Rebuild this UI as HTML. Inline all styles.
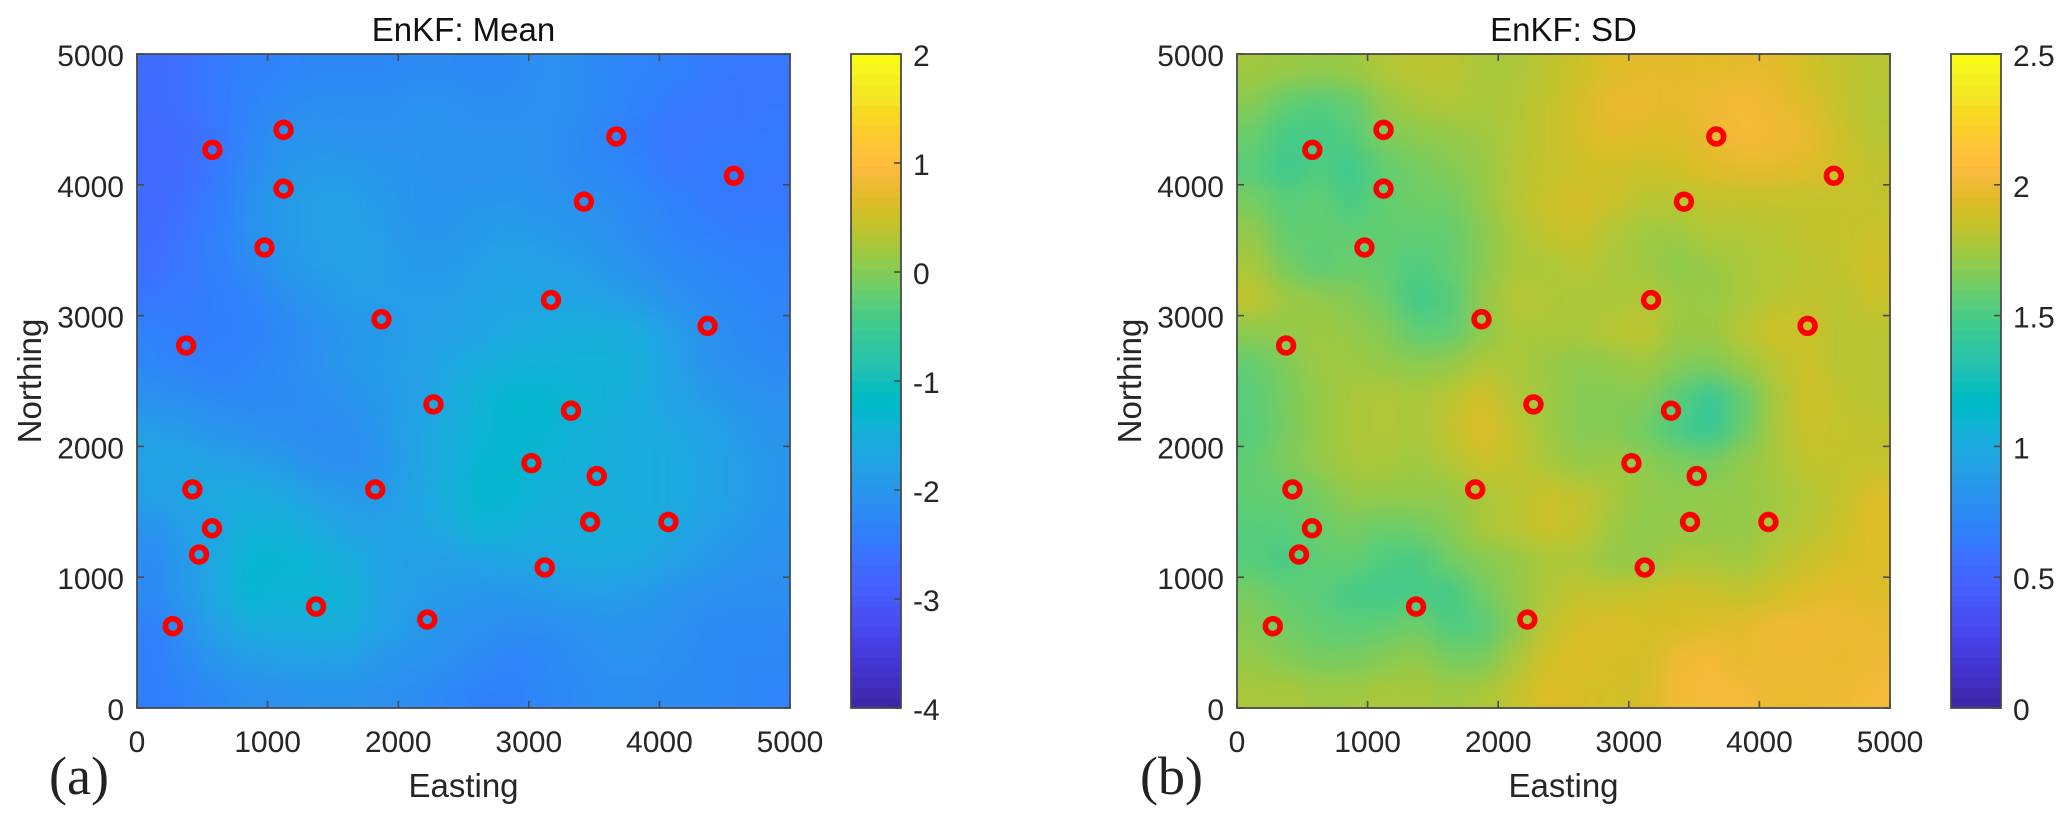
<!DOCTYPE html>
<html lang="en">
<head>
<meta charset="utf-8">
<title>EnKF Mean and SD</title>
<style>
html,body{margin:0;padding:0;background:#fff;width:2067px;height:823px;overflow:hidden}
svg{display:block}
text{font-family:"Liberation Sans",Arial,sans-serif;fill:#262626}
</style>
</head>
<body>
<svg id="figure" xmlns="http://www.w3.org/2000/svg" width="2067" height="823" viewBox="0 0 2067 823">
<defs>
<filter id="smooth" filterUnits="userSpaceOnUse" x="0" y="0" width="2067" height="823" color-interpolation-filters="sRGB">
<feGaussianBlur stdDeviation="12"/>
</filter>
<clipPath id="clip-a"><rect x="137" y="54" width="653" height="654"/></clipPath>
<clipPath id="clip-b"><rect x="1237" y="54" width="653" height="654"/></clipPath>
</defs>
</svg>
<script>
const axisTicks = [0, 1000, 2000, 3000, 4000, 5000];
const meanBarTicks = [-4, -3, -2, -1, 0, 1, 2];
const sdBarTicks = [0, 0.5, 1, 1.5, 2, 2.5];
const meanTitle = "EnKF: Mean";
const sdTitle = "EnKF: SD";

const stationEasting = [1122,577,1122,976,3670,4570,3422,3170,1872,4369,376,2270,3323,3020,3520,424,1824,574,3469,4069,475,3122,1371,2223,274];
const stationNorthing = [4420,4267,3970,3520,4369,4069,3871,3119,2972,2921,2771,2321,2273,1872,1773,1671,1671,1374,1422,1422,1173,1074,775,676,625];

const meanField = [
[-2.7,-2.65,-2.5,-2.38,-2.33,-2.27,-2.27,-2.27,-2.22,-2.22,-2.27,-2.22,-2.1,-2.16,-2.27,-2.33,-2.38,-2.5,-2.55,-2.55],
[-2.7,-2.65,-2.5,-2.33,-2.22,-2.16,-2.16,-2.16,-2.1,-2.1,-2.16,-2.16,-2.1,-2.16,-2.27,-2.38,-2.5,-2.55,-2.6,-2.55],
[-2.75,-2.7,-2.55,-2.27,-2.1,-2.05,-2.1,-2.1,-2.1,-2.1,-2.1,-2.1,-2.1,-2.22,-2.33,-2.45,-2.6,-2.55,-2.55,-2.5],
[-2.75,-2.7,-2.5,-2.22,-2,-1.94,-1.94,-2,-2.05,-2.1,-2.1,-2.05,-2.1,-2.22,-2.27,-2.38,-2.55,-2.5,-2.5,-2.55],
[-2.75,-2.65,-2.45,-2.1,-1.94,-1.83,-1.83,-1.94,-2.05,-2.05,-2,-2,-2.05,-2.1,-2.16,-2.27,-2.38,-2.5,-2.55,-2.55],
[-2.7,-2.6,-2.38,-2.1,-1.94,-1.83,-1.83,-1.88,-2,-2,-1.94,-1.88,-1.94,-2,-2.1,-2.22,-2.33,-2.38,-2.45,-2.45],
[-2.65,-2.55,-2.38,-2.22,-2,-1.88,-1.83,-1.88,-1.94,-1.94,-1.83,-1.77,-1.83,-1.88,-2,-2.1,-2.22,-2.27,-2.33,-2.38],
[-2.55,-2.5,-2.45,-2.33,-2.16,-2,-1.88,-1.88,-1.88,-1.88,-1.77,-1.72,-1.72,-1.72,-1.83,-1.94,-2.1,-2.22,-2.27,-2.33],
[-2.38,-2.45,-2.45,-2.38,-2.27,-2.1,-2,-1.94,-1.88,-1.83,-1.72,-1.6,-1.55,-1.5,-1.5,-1.6,-1.88,-2.1,-2.22,-2.27],
[-2.27,-2.33,-2.38,-2.3,-2.2,-2.1,-1.98,-1.9,-1.83,-1.66,-1.55,-1.45,-1.45,-1.45,-1.45,-1.55,-1.83,-2.05,-2.16,-2.22],
[-2.1,-2.16,-2.22,-2.25,-2.2,-2.15,-2.05,-1.95,-1.83,-1.6,-1.39,-1.28,-1.28,-1.39,-1.45,-1.6,-1.77,-1.94,-2.05,-2.1],
[-1.88,-1.94,-2.05,-2.1,-2.15,-2.2,-2.15,-2,-1.77,-1.55,-1.39,-1.28,-1.33,-1.45,-1.5,-1.55,-1.66,-1.77,-1.94,-2.05],
[-1.72,-1.72,-1.77,-1.85,-1.95,-2.1,-2.15,-2.05,-1.77,-1.55,-1.33,-1.28,-1.39,-1.45,-1.5,-1.55,-1.6,-1.72,-1.88,-2],
[-1.83,-1.72,-1.6,-1.55,-1.66,-1.83,-1.94,-1.94,-1.72,-1.5,-1.28,-1.33,-1.45,-1.5,-1.5,-1.55,-1.6,-1.72,-1.88,-2],
[-2.05,-1.88,-1.66,-1.45,-1.45,-1.6,-1.77,-1.83,-1.72,-1.6,-1.39,-1.45,-1.55,-1.5,-1.5,-1.5,-1.66,-1.83,-1.94,-2.05],
[-2.22,-1.94,-1.6,-1.33,-1.33,-1.39,-1.55,-1.72,-1.83,-1.83,-1.77,-1.72,-1.66,-1.6,-1.6,-1.66,-1.83,-1.94,-2.05,-2.1],
[-2.22,-1.94,-1.6,-1.33,-1.39,-1.39,-1.45,-1.72,-1.88,-1.94,-2,-2,-1.94,-1.88,-1.88,-1.94,-2.05,-2.1,-2.16,-2.16],
[-2.38,-2.1,-1.77,-1.55,-1.55,-1.5,-1.55,-1.77,-1.94,-2.05,-2.1,-2.16,-2.16,-2.1,-2.05,-2.05,-2.1,-2.22,-2.22,-2.22],
[-2.45,-2.22,-2,-1.88,-1.83,-1.77,-1.83,-2,-2.05,-2.1,-2.22,-2.33,-2.27,-2.16,-2.1,-2.1,-2.16,-2.22,-2.27,-2.27],
[-2.45,-2.33,-2.22,-2.1,-2.1,-2.05,-2.05,-2.1,-2.16,-2.27,-2.38,-2.38,-2.27,-2.22,-2.16,-2.16,-2.22,-2.22,-2.27,-2.33]
];

const sdField = [
[1.76,1.74,1.72,1.74,1.8,1.83,1.83,1.78,1.78,1.84,1.88,1.95,1.98,1.98,1.97,1.98,1.98,1.9,1.85,1.82],
[1.68,1.58,1.54,1.58,1.72,1.78,1.8,1.78,1.8,1.85,1.92,2.0,2.0,1.98,2.02,2.05,2.0,1.95,1.85,1.8],
[1.6,1.49,1.49,1.54,1.66,1.7,1.72,1.75,1.8,1.85,1.92,1.98,1.95,1.95,2.0,2.05,2.03,2.0,1.88,1.82],
[1.55,1.46,1.53,1.46,1.58,1.63,1.68,1.72,1.82,1.85,1.88,1.9,1.88,1.9,1.95,1.98,1.98,1.95,1.9,1.85],
[1.64,1.55,1.58,1.5,1.58,1.62,1.62,1.72,1.82,1.88,1.92,1.88,1.82,1.82,1.85,1.85,1.85,1.85,1.85,1.85],
[1.72,1.58,1.58,1.58,1.58,1.58,1.58,1.68,1.78,1.85,1.88,1.8,1.75,1.75,1.8,1.8,1.82,1.85,1.85,1.88],
[1.78,1.64,1.56,1.6,1.58,1.52,1.58,1.68,1.78,1.78,1.82,1.78,1.75,1.7,1.73,1.78,1.8,1.82,1.85,1.9],
[1.85,1.75,1.72,1.68,1.62,1.48,1.53,1.72,1.82,1.8,1.78,1.78,1.8,1.75,1.73,1.78,1.82,1.85,1.82,1.88],
[1.7,1.72,1.75,1.72,1.68,1.57,1.57,1.7,1.78,1.78,1.78,1.82,1.85,1.74,1.74,1.82,1.9,1.88,1.82,1.82],
[1.58,1.66,1.75,1.75,1.72,1.7,1.72,1.8,1.78,1.74,1.7,1.72,1.75,1.68,1.66,1.74,1.82,1.88,1.82,1.82],
[1.56,1.64,1.72,1.78,1.8,1.78,1.82,1.92,1.8,1.75,1.68,1.68,1.68,1.55,1.42,1.58,1.78,1.9,1.85,1.82],
[1.54,1.64,1.72,1.78,1.8,1.78,1.85,1.95,1.85,1.75,1.68,1.68,1.62,1.5,1.42,1.6,1.78,1.88,1.85,1.85],
[1.58,1.66,1.72,1.78,1.78,1.75,1.8,1.88,1.85,1.78,1.72,1.75,1.7,1.66,1.64,1.72,1.78,1.85,1.85,1.85],
[1.58,1.58,1.64,1.72,1.72,1.72,1.72,1.78,1.82,1.88,1.85,1.78,1.72,1.7,1.72,1.72,1.75,1.8,1.85,1.95],
[1.54,1.55,1.6,1.64,1.6,1.62,1.68,1.78,1.82,1.88,1.85,1.75,1.7,1.72,1.72,1.72,1.78,1.82,1.88,1.95],
[1.54,1.5,1.58,1.58,1.52,1.5,1.62,1.68,1.72,1.78,1.78,1.72,1.72,1.78,1.78,1.75,1.82,1.88,1.92,1.95],
[1.64,1.58,1.55,1.5,1.48,1.5,1.48,1.62,1.72,1.8,1.85,1.85,1.88,1.9,1.88,1.85,1.9,1.95,1.98,1.95],
[1.68,1.62,1.58,1.56,1.58,1.62,1.52,1.54,1.68,1.85,1.92,1.95,1.92,1.92,1.95,1.98,2.02,2.02,2.02,2.0],
[1.72,1.68,1.64,1.64,1.68,1.72,1.64,1.64,1.78,1.9,1.95,1.92,1.9,2.02,2.05,1.98,2.02,2.02,1.98,2.02],
[1.78,1.78,1.75,1.75,1.78,1.78,1.75,1.78,1.85,1.95,1.92,1.9,1.92,2.03,2.05,2.05,2.0,2.0,2.02,2.05]
];

const parula = [
[.2422,.1504,.6603],[.2504,.1650,.7076],[.2578,.1818,.7511],[.2647,.1978,.7952],[.2706,.2147,.8364],[.2751,.2342,.8710],[.2783,.2559,.8991],[.2803,.2782,.9221],
[.2813,.3006,.9414],[.2810,.3228,.9579],[.2795,.3447,.9717],[.2760,.3667,.9829],[.2699,.3892,.9906],[.2602,.4123,.9952],[.2440,.4358,.9988],[.2206,.4603,.9973],
[.1963,.4847,.9892],[.1834,.5074,.9798],[.1786,.5289,.9682],[.1764,.5499,.9520],[.1687,.5703,.9359],[.1540,.5902,.9218],[.1460,.6091,.9079],[.1380,.6276,.8973],
[.1248,.6459,.8883],[.1113,.6635,.8763],[.0952,.6798,.8598],[.0689,.6948,.8394],[.0297,.7082,.8163],[.0036,.7203,.7917],[.0067,.7312,.7660],[.0433,.7411,.7394],
[.0964,.7500,.7120],[.1408,.7584,.6842],[.1717,.7670,.6554],[.1938,.7758,.6251],[.2161,.7843,.5923],[.2470,.7918,.5567],[.2906,.7973,.5188],[.3406,.8008,.4789],
[.3909,.8029,.4354],[.4456,.8024,.3909],[.5044,.7993,.3480],[.5616,.7942,.3045],[.6174,.7876,.2612],[.6720,.7793,.2227],[.7242,.7698,.1910],[.7738,.7598,.1646],
[.8203,.7498,.1535],[.8634,.7406,.1596],[.9035,.7330,.1774],[.9393,.7288,.2100],[.9728,.7298,.2394],[.9956,.7434,.2371],[.9970,.7659,.2199],[.9952,.7861,.1967],
[.9892,.8086,.1728],[.9786,.8330,.1480],[.9676,.8568,.1217],[.9610,.8890,.1537],[.9597,.9135,.1423],[.9628,.9373,.1265],[.9691,.9606,.1064],[.9769,.9839,.0805]
];

const NS = "http://www.w3.org/2000/svg";
const svg = document.getElementById("figure");
const AXIS_COLOR = "#4a4a4a";

function make(tag, attrs, parent, content) {
  const el = document.createElementNS(NS, tag);
  for (const k in attrs) el.setAttribute(k, attrs[k]);
  if (content !== undefined) el.textContent = content;
  parent.appendChild(el);
  return el;
}

function colorFor(t) {
  const c = Math.max(0, Math.min(1, t)) * (parula.length - 1);
  const i = Math.min(parula.length - 2, Math.floor(c));
  const f = c - i;
  const mix = parula[i].map((p, k) => Math.round(255 * (p + (parula[i + 1][k] - p) * f)));
  return "rgb(" + mix.join(",") + ")";
}

function drawPanel(cfg) {
  const L = cfg.left, T = 54, W = 653, H = 654;
  const xScale = v => L + (v / 5000) * W;
  const yScale = v => T + H - (v / 5000) * H;

  const panel = make("g", {}, svg);
  
  

  const clip = make("g", { "clip-path": "url(#" + cfg.clip + ")" }, panel);
  const heat = make("g", { filter: "url(#smooth)" }, clip);
  
  

  const rows = cfg.field.length, cols = cfg.field[0].length;
  const stepX = 5000 / cols, stepY = 5000 / rows;
  const bleed = 50;
  cfg.field.forEach((row, r) => {
    row.forEach((val, c) => {
      let x0 = xScale(c * stepX), x1 = xScale((c + 1) * stepX);
      let y0 = yScale(5000 - r * stepY), y1 = yScale(5000 - (r + 1) * stepY);
      if (c === 0) x0 -= bleed;
      if (c === cols - 1) x1 += bleed;
      if (r === 0) y0 -= bleed;
      if (r === rows - 1) y1 += bleed;
      const cell = make("rect", {
        x: x0, y: y0, width: x1 - x0 + 0.6, height: y1 - y0 + 0.6,
        fill: colorFor((val - cfg.min) / (cfg.max - cfg.min))
      }, heat);
      
      
    });
  });

  stationEasting.forEach((e, i) => {
    const m = make("circle", {
      cx: xScale(e), cy: yScale(stationNorthing[i]), r: 7.4,
      fill: "none", stroke: "#fe0000", "stroke-width": 5.6
    }, panel);
    
    
  });

  const frame = make("rect", { x: L, y: T, width: W, height: H, fill: "none", stroke: AXIS_COLOR, "stroke-width": 1.8 }, panel);
  
  

  axisTicks.forEach(t => {
    const x = xScale(t), y = yScale(t);
    make("line", { x1: x, x2: x, y1: T + H, y2: T + H - 7, stroke: AXIS_COLOR, "stroke-width": 1.6 }, panel);
    make("line", { x1: x, x2: x, y1: T, y2: T + 7, stroke: AXIS_COLOR, "stroke-width": 1.6 }, panel);
    make("line", { x1: L, x2: L + 7, y1: y, y2: y, stroke: AXIS_COLOR, "stroke-width": 1.6 }, panel);
    make("line", { x1: L + W, x2: L + W - 7, y1: y, y2: y, stroke: AXIS_COLOR, "stroke-width": 1.6 }, panel);
    const xl = make("text", { x: x, y: 752, "text-anchor": "middle", "font-size": 30 }, panel, String(t));
    
    
    const yl = make("text", { x: L - 13, y: y + 12, "text-anchor": "end", "font-size": 30 }, panel, String(t));
    
    
  });

  const title = make("text", { x: L + W / 2, y: 41, "text-anchor": "middle", "font-size": 33, style: "fill:#111" }, panel, cfg.title);
  
  

  const xt = make("text", { x: L + W / 2, y: 797, "text-anchor": "middle", "font-size": 33 }, panel, "Easting");
  
  

  const yt = make("text", { x: 0, y: 0, "text-anchor": "middle", "font-size": 33, transform: "translate(" + (L - 96) + ",381) rotate(-90)" }, panel, "Northing");
  
  

  const tag = make("text", { x: cfg.tagX, y: 794, "font-size": 54, style: "font-family:'Liberation Serif',serif;fill:#222" }, panel, cfg.tag);
  
  

  // colorbar
  const BL = L + 714, BW = 50;
  const barScale = v => T + H - ((v - cfg.min) / (cfg.max - cfg.min)) * H;
  const bar = make("g", {}, panel);
  
  
  const n = parula.length;
  for (let i = 0; i < n; i++) {
    const v0 = cfg.min + (i / n) * (cfg.max - cfg.min);
    const v1 = cfg.min + ((i + 1) / n) * (cfg.max - cfg.min);
    make("rect", { x: BL, y: barScale(v1), width: BW, height: barScale(v0) - barScale(v1) + 0.5, fill: colorFor(i / (n - 1)) }, bar);
  }
  make("rect", { x: BL, y: T, width: BW, height: H, fill: "none", stroke: AXIS_COLOR, "stroke-width": 1.8 }, bar);
  cfg.barTicks.forEach(t => {
    const y = barScale(t);
    make("line", { x1: BL + BW, x2: BL + BW - 7, y1: y, y2: y, stroke: AXIS_COLOR, "stroke-width": 1.6 }, bar);
    const lab = make("text", { x: BL + BW + 12, y: y + 12, "font-size": 30 }, bar, String(t));
    
    
  });
}

drawPanel({ key: "mean", left: 137, clip: "clip-a", field: meanField, min: -4, max: 2, barTicks: meanBarTicks, title: meanTitle, tag: "(a)", tagX: 49 });
drawPanel({ key: "sd", left: 1237, clip: "clip-b", field: sdField, min: 0, max: 2.5, barTicks: sdBarTicks, title: sdTitle, tag: "(b)", tagX: 1140 });
</script>
</body>
</html>
